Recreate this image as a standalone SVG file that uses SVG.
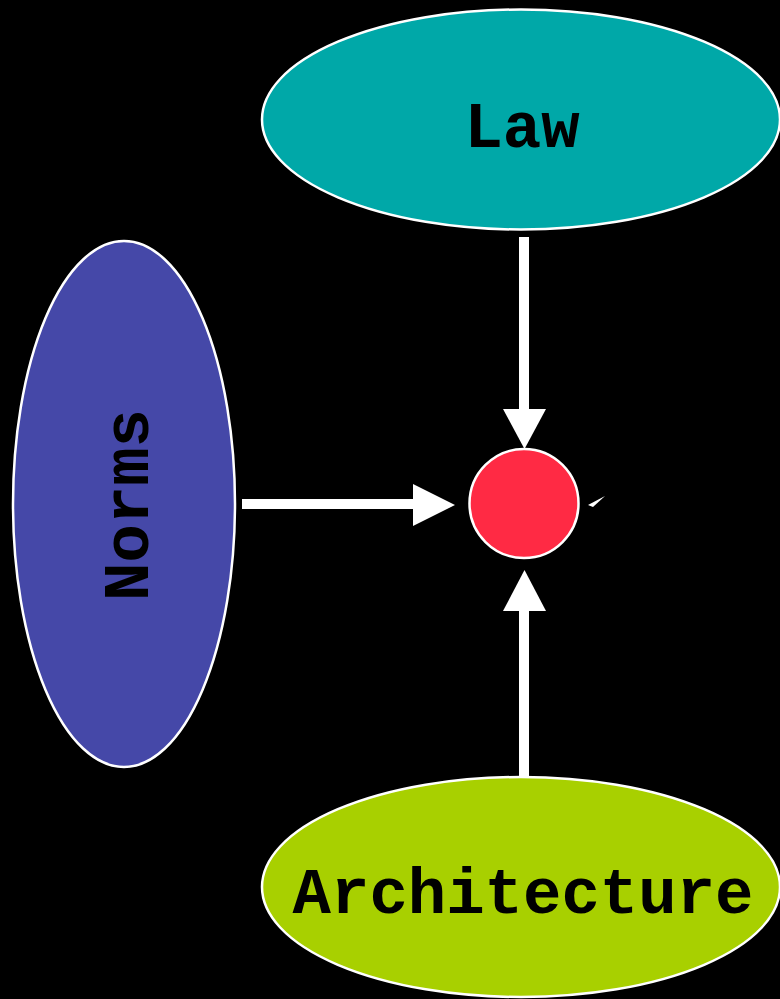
<svg xmlns="http://www.w3.org/2000/svg" width="780" height="999" viewBox="0 0 780 999">
<style>
.node{stroke:#fff;stroke-width:2.5}
.lbl{font-family:"Liberation Mono","Courier New",monospace;font-weight:bold;font-size:64px;fill:#000;text-anchor:middle}
.shaft{stroke:#fff;stroke-width:10;fill:none}
.head{fill:#fff}
</style>
<rect width="780" height="999" fill="#000"/>
<g id="law"><ellipse class="node" cx="521" cy="119.5" rx="259" ry="110" fill="#00A8A8"/><text class="lbl" x="522" y="147">Law</text></g>
<g id="norms"><ellipse class="node" cx="124" cy="504" rx="111" ry="263" fill="#4548A8"/><text class="lbl" transform="translate(148,505) rotate(-90)">Norms</text></g>
<g id="architecture"><ellipse class="node" cx="521" cy="887" rx="259" ry="110" fill="#A8D000"/><text class="lbl" x="523" y="913">Architecture</text></g>
<g id="center"><circle class="node" cx="524" cy="503.5" r="54.5" fill="#FF2A44"/></g>
<g id="connectors">
<line class="shaft" x1="524" y1="237" x2="524" y2="412"/>
<polygon class="head" points="503,409 546,409 524.5,449"/>
<line class="shaft" x1="242" y1="504" x2="416" y2="504"/>
<polygon class="head" points="413,484 413,526 455,505"/>
<line class="shaft" x1="524" y1="777" x2="524" y2="608"/>
<polygon class="head" points="503,611 546,611 524.5,570"/>
<polygon class="head" points="588,505 605,496 593,507"/>
</g>
</svg>
